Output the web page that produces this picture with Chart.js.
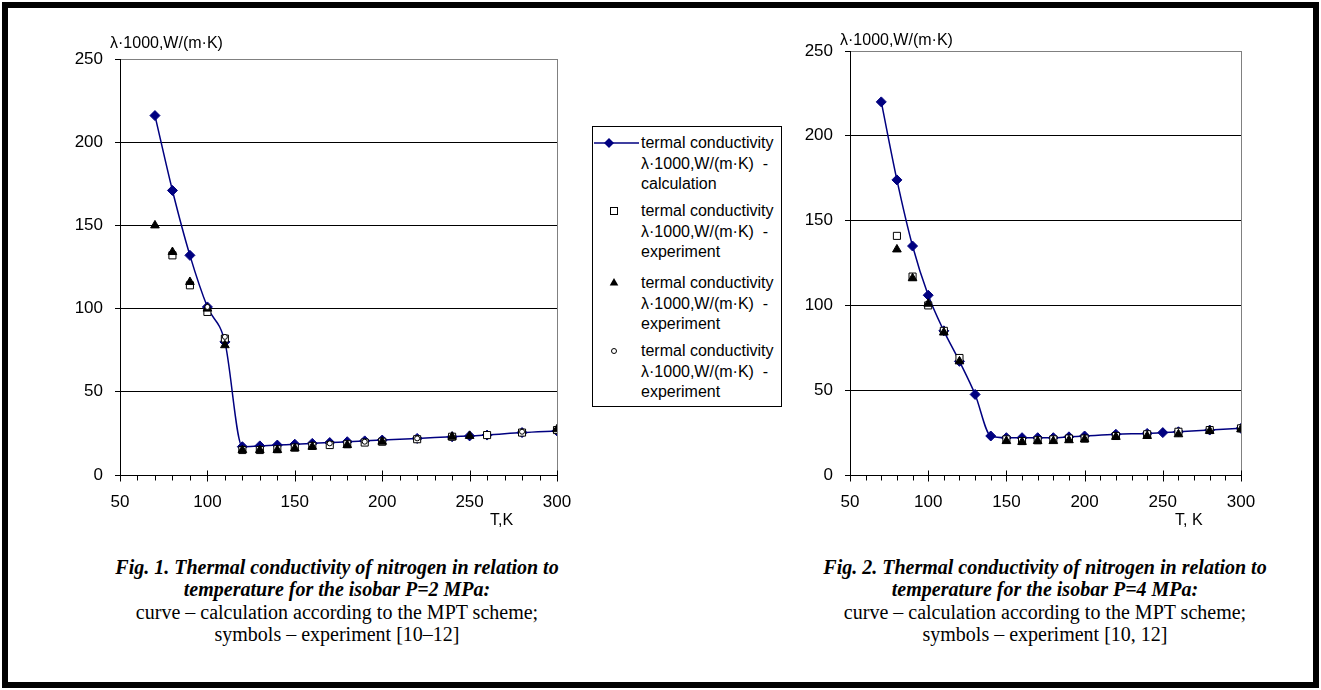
<!DOCTYPE html>
<html><head><meta charset="utf-8">
<script src="https://cdn.jsdelivr.net/npm/chart.js@4.4.1/dist/chart.umd.min.js"></script>
<style>
html,body{margin:0;padding:0;background:#fff;}
#page{position:relative;width:1321px;height:690px;overflow:hidden;background:#fff;}
#frame{position:absolute;left:2px;top:2px;width:1317px;height:686px;border:6px solid #000;box-sizing:border-box;}
canvas{position:absolute;}
.lbl{position:absolute;font-family:"Liberation Sans",Arial,sans-serif;font-size:16px;color:#000;white-space:nowrap;line-height:18px;}
.cap{position:absolute;font-family:"Liberation Serif","Times New Roman",serif;font-size:20px;text-align:center;line-height:22.3px;color:#000;white-space:nowrap;}
.cap b{font-style:italic;}
#legend{position:absolute;left:592px;top:126px;width:190px;height:281px;border:1px solid #000;box-sizing:border-box;background:#fff;}
.entry{position:absolute;left:48px;font-family:"Liberation Sans",Arial,sans-serif;font-size:16px;line-height:20.5px;color:#000;white-space:nowrap;}
.mk{position:absolute;left:0;}
</style>
</head><body>
<div id="page">
<div id="frame"></div>
<canvas id="c1" width="580" height="540" style="left:0;top:0;width:580px;height:540px"></canvas>
<canvas id="c2" width="540" height="540" style="left:780px;top:0;width:540px;height:540px"></canvas>

<div class="lbl" style="left:110px;top:34px">λ·1000,W/(m·K)</div>
<div class="lbl" style="left:490px;top:511px">T,K</div>
<div class="lbl" style="left:840px;top:31px">λ·1000,W/(m·K)</div>
<div class="lbl" style="left:1175px;top:511px">T, K</div>

<div id="legend">
  <svg class="mk" width="190" height="281" style="left:0;top:0;position:absolute">
    <line x1="1" y1="16" x2="46" y2="16" stroke="#000080" stroke-width="1.5"/>
    <polygon points="16,11 21,16 16,21 11,16" fill="#000080"/>
    <rect x="17.5" y="80.5" width="7" height="7" fill="#fff" stroke="#000" stroke-width="1"/>
    <polygon points="21,151 25.3,158.5 16.7,158.5" fill="#000"/>
    <circle cx="21" cy="224" r="2.5" fill="#fff" stroke="#000" stroke-width="1"/>
  </svg>
  <div class="entry" style="top:6px">termal conductivity<br>λ·1000,W/(m·K)&nbsp; -<br>calculation</div>
  <div class="entry" style="top:74px">termal conductivity<br>λ·1000,W/(m·K)&nbsp; -<br>experiment</div>
  <div class="entry" style="top:146px">termal conductivity<br>λ·1000,W/(m·K)&nbsp; -<br>experiment</div>
  <div class="entry" style="top:214px">termal conductivity<br>λ·1000,W/(m·K)&nbsp; -<br>experiment</div>
</div>

<div class="cap" style="left:37px;top:556px;width:600px"><b>Fig. 1. Thermal conductivity of nitrogen in relation to<br>temperature for the isobar P=2 MPa:</b><br>curve – calculation according to the MPT scheme;<br>symbols – experiment [10–12]</div>
<div class="cap" style="left:745px;top:556px;width:600px"><b>Fig. 2. Thermal conductivity of nitrogen in relation to<br>temperature for the isobar P=4 MPa:</b><br>curve – calculation according to the MPT scheme;<br>symbols – experiment [10, 12]</div>
</div>

<script>
// ---- data ----
const tempCalc = [70,80,90,100,110,120,130,140,150,160,170,180,190,200,220,240,250,260,280,300];
const calc2MPa = [216,171,132,101,80,17,17.5,18,18.5,19,19.5,20,20.5,21,22,23,23.5,24,25.5,26.5];
const tempSq2MPa = [80,90,100,110,120,130,140,150,160,170,180,190,200,220,240,260,280,300];
const sq2MPa = [132,114,98,82,15,15,15.5,16.5,17.5,18,18.5,19.5,20,21.5,23,24,25.5,27];
const tempTri2MPa = [70,80,90,100,110,120,130,140,150,160,180,200,240,250,300];
const tri2MPa = [150,134,116,100,78,15,15,15,16,17,18,20,23,23.5,27.5];
const tempCirc2MPa = [100,110,170,190,220,280];
const circ2MPa = [101,83,19,20,22,26];

const calc4MPa = [220,174,135,106,85,67,47.5,23,22,22,22,22,22.5,23,24,24.5,25,25.5,26.5,27.5];
const tempSq4MPa = [80,90,100,110,120,150,160,170,180,190,200,220,240,260,280,300];
const sq4MPa = [141,117,100,85,69,21,20,20.5,21,21.5,21.5,23,24,25.5,26.5,27.5];
const tempTri4MPa = [80,90,100,110,120,150,160,170,180,190,200,220,240,260,280,300];
const tri4MPa = [133,116,101,84,67,20,19.5,20,20,20.5,21,22.5,23,24,26,27];

const xTickValues = [50,100,150,200,250,300];
const yTickValues = [0,50,100,150,200,250];

const pts = (xs, ys) => xs.map((x, i) => ({x, y: ys[i]}));

const axisTicks = {
  id: 'axisTicks',
  afterDraw(chart) {
    const {ctx, scales: {x, y}} = chart;
    const y0 = Math.round(y.getPixelForValue(0)) + 0.5;
    ctx.save();
    ctx.strokeStyle = '#000';
    ctx.lineWidth = 1;
    ctx.beginPath();
    for (let v = x.min; v <= x.max; v += 10) {
      const px = Math.round(x.getPixelForValue(v)) + 0.5;
      const major = v % 50 === 0;
      ctx.moveTo(px, y0 + (major ? -5 : 0));
      ctx.lineTo(px, y0 + (major ? 6 : 5));
    }
    ctx.stroke();
    ctx.restore();
  }
};

function makeChart(id, datasets, yAxisWidth, padding) {
  return new Chart(document.getElementById(id), {
    type: 'scatter',
    data: { datasets },
    plugins: [axisTicks],
    options: {
      responsive: false,
      animation: false,
      devicePixelRatio: 1,
      layout: { padding },
      plugins: { legend: { display: false }, tooltip: { enabled: false } },
      scales: {
        x: {
          type: 'linear', min: 50, max: 300,
          afterBuildTicks: s => { s.ticks = xTickValues.map(v => ({value: v})); },
          afterFit: s => { s.height = 65; s.paddingLeft = 0; s.paddingRight = 0; },
          grid: {
            drawTicks: false,
            color: c => (c.tick && c.tick.value === 300) ? '#808080' : 'rgba(0,0,0,0)',
            lineWidth: 1
          },
          border: { display: true, color: '#000', width: 1 },
          ticks: { padding: 17, color: '#000', font: { family: '"Liberation Sans", Arial, sans-serif', size: 17 }, maxRotation: 0 }
        },
        y: {
          type: 'linear', min: 0, max: 250,
          afterBuildTicks: s => { s.ticks = yTickValues.map(v => ({value: v})); },
          afterFit: s => { s.width = yAxisWidth; s.paddingTop = 0; s.paddingBottom = 0; },
          grid: {
            drawTicks: true, tickLength: 5, tickColor: '#000',
            color: c => (c.tick && c.tick.value === 250) ? '#808080' : '#000',
            lineWidth: 1
          },
          border: { display: true, color: '#000', width: 1 },
          ticks: { padding: 12, color: '#000', font: { family: '"Liberation Sans", Arial, sans-serif', size: 17 } }
        }
      }
    }
  });
}

const sqStyle = { pointStyle: 'rect', pointRadius: 5, pointBackgroundColor: '#fff', pointBorderColor: '#000', pointBorderWidth: 1, showLine: false };
const triStyle = { pointStyle: 'triangle', pointRadius: 5, pointBackgroundColor: '#000', pointBorderColor: '#000', pointBorderWidth: 1, showLine: false };
const circStyle = { pointStyle: 'circle', pointRadius: 2.5, pointBackgroundColor: '#fff', pointBorderColor: '#000', pointBorderWidth: 1, showLine: false };
const calcStyle = { showLine: true, borderColor: '#000080', borderWidth: 1.5, cubicInterpolationMode: 'monotone',
  pointStyle: 'rectRot', pointRadius: 5, pointBackgroundColor: '#000080', pointBorderColor: '#000080', pointBorderWidth: 1 };

makeChart('c1', [
  Object.assign({ label: 'experiment (circles)', data: pts(tempCirc2MPa, circ2MPa) }, circStyle),
  Object.assign({ label: 'experiment (triangles)', data: pts(tempTri2MPa, tri2MPa) }, triStyle),
  Object.assign({ label: 'experiment (squares)', data: pts(tempSq2MPa, sq2MPa) }, sqStyle),
  Object.assign({ label: 'calculation', data: pts(tempCalc, calc2MPa) }, calcStyle)
], 100, { left: 20, right: 23, top: 59, bottom: 0 });

makeChart('c2', [
  Object.assign({ label: 'experiment (triangles)', data: pts(tempTri4MPa, tri4MPa) }, triStyle),
  Object.assign({ label: 'experiment (squares)', data: pts(tempSq4MPa, sq4MPa) }, sqStyle),
  Object.assign({ label: 'calculation', data: pts(tempCalc, calc4MPa) }, calcStyle)
], 60, { left: 10, right: 79, top: 51, bottom: 0 });
</script>
</body></html>
